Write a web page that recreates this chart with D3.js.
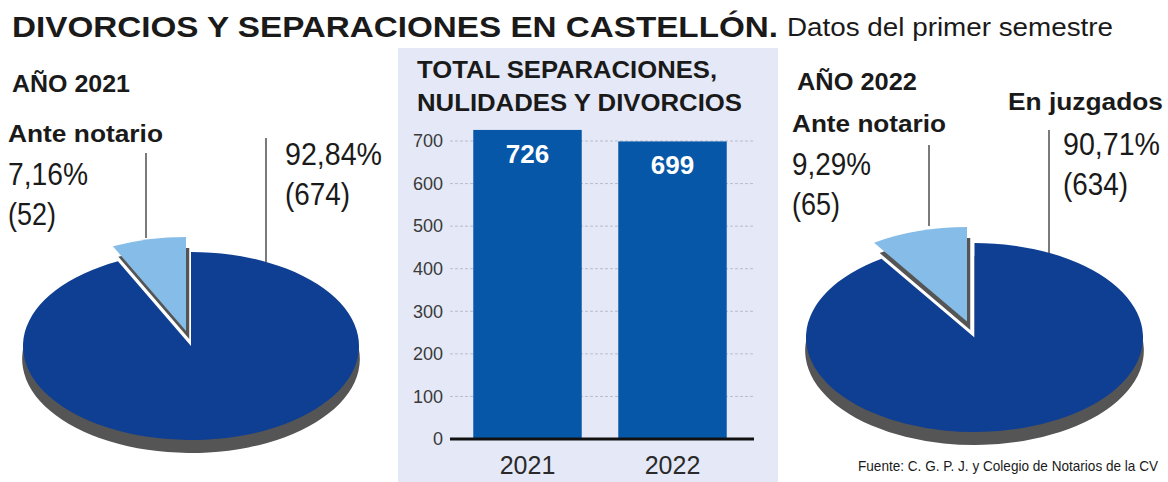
<!DOCTYPE html>
<html><head><meta charset="utf-8">
<script src="https://cdn.jsdelivr.net/npm/d3@7"></script>
<style>
html,body{margin:0;padding:0;background:#fff;}
svg{display:block;}
text{font-family:"Liberation Sans",Arial,sans-serif;}
</style></head>
<body>
<svg id="c" width="1168" height="482"></svg>
<script>
// ---- data ----
const years = ["2021", "2022"];
const totals = [726, 699];
const yTicks = [0, 100, 200, 300, 400, 500, 600, 700];
const pieLabels = ["En juzgados", "Ante notario"];
const pie2021 = [674, 52];
const pie2022 = [634, 65];
const pct2021 = ["92,84%", "7,16%"];
const pct2022 = ["90,71%", "9,29%"];

const svg = d3.select("#c");
const C_MAIN = "#0f3f92", C_LIGHT = "#86bde8", C_SHADOW = "#555555", C_BAR = "#0657a8";

// title
svg.append("text").attr("x", 12).attr("y", 37).attr("font-size", 30).attr("font-weight", "bold")
  .attr("fill", "#1a1a1a").attr("textLength", 766).attr("lengthAdjust", "spacingAndGlyphs")
  .text("DIVORCIOS Y SEPARACIONES EN CASTELLÓN.");
svg.append("text").attr("x", 787).attr("y", 36).attr("font-size", 26)
  .attr("fill", "#1a1a1a").attr("textLength", 326).attr("lengthAdjust", "spacingAndGlyphs")
  .text("Datos del primer semestre");

// ---- bar panel ----
svg.append("rect").attr("x", 398).attr("y", 48).attr("width", 380).attr("height", 434).attr("fill", "#e5e9f7");
svg.append("text").attr("x", 417).attr("y", 78).attr("font-size", 24).attr("font-weight", "bold")
  .attr("fill", "#1a1a1a").attr("textLength", 300).attr("lengthAdjust", "spacingAndGlyphs")
  .text("TOTAL SEPARACIONES,");
svg.append("text").attr("x", 417).attr("y", 111).attr("font-size", 24).attr("font-weight", "bold")
  .attr("fill", "#1a1a1a").attr("textLength", 325).attr("lengthAdjust", "spacingAndGlyphs")
  .text("NULIDADES Y DIVORCIOS");

const y = d3.scaleLinear().domain([0, 700]).range([439, 141]);
const x = d3.scaleBand().domain(years).range([455, 745]).paddingInner(0.252).paddingOuter(0.126);

const grid = svg.append("g");
grid.selectAll("line").data(yTicks.filter(d => d > 0)).join("line")
  .attr("x1", 450).attr("x2", 754).attr("y1", d => y(d)).attr("y2", d => y(d))
  .attr("stroke", "#b9bdc9").attr("stroke-width", 1).attr("stroke-dasharray", "3,2");

const yAxis = svg.append("g").attr("transform", "translate(443,0)")
  .call(d3.axisLeft(y).tickValues(yTicks).tickSize(0).tickPadding(0));
yAxis.select(".domain").remove();
yAxis.selectAll("text").attr("font-size", 18).attr("fill", "#3a3a3a")
  .attr("font-family", "'Liberation Sans Narrow','Liberation Sans',Arial,sans-serif");

svg.append("g").selectAll("rect").data(totals).join("rect")
  .attr("x", (d, i) => x(years[i])).attr("width", x.bandwidth())
  .attr("y", d => y(d)).attr("height", d => y(0) - y(d)).attr("fill", C_BAR);

svg.append("g").selectAll("text").data(totals).join("text")
  .attr("x", (d, i) => x(years[i]) + x.bandwidth() / 2).attr("y", d => y(d) + 33)
  .attr("text-anchor", "middle").attr("font-size", 26).attr("font-weight", "bold").attr("fill", "#fff")
  .text(d => d);

svg.append("line").attr("x1", 450).attr("x2", 754).attr("y1", y(0)).attr("y2", y(0))
  .attr("stroke", "#111").attr("stroke-width", 3);

const xAxis = svg.append("g").attr("transform", "translate(0,474)")
  .call(d3.axisBottom(x).tickSize(0).tickPadding(0));
xAxis.select(".domain").remove();
xAxis.selectAll("text").attr("font-size", 25).attr("fill", "#2a2a2a").attr("dy", 0)
  .attr("font-family", "'Liberation Sans Narrow','Liberation Sans',Arial,sans-serif");

// ---- pies ----
function drawPie(values, cfg) {
  const pie = d3.pie().sort(null).value(d => d);
  const arcs = pie(values);
  const arc = d3.arc().innerRadius(0).outerRadius(cfg.rx);
  const sy = cfg.ry / cfg.rx;
  // main slice thickness
  svg.append("path").attr("d", arc(arcs[0]))
    .attr("transform", `translate(${cfg.cx},${cfg.cy + 13}) scale(1.005,${sy})`).attr("fill", C_SHADOW);
  svg.append("path").attr("d", arc(arcs[0]))
    .attr("transform", `translate(${cfg.cx},${cfg.cy}) scale(1,${sy})`).attr("fill", C_MAIN);
  // exploded slice shadow
  svg.append("path").attr("d", arc(arcs[1]))
    .attr("transform", `translate(${cfg.cx + cfg.dx + 4},${cfg.cy + cfg.dy + 10}) scale(1,${sy})`)
    .attr("fill", C_SHADOW).attr("stroke", "#fff").attr("stroke-width", 1.5).attr("vector-effect", "non-scaling-stroke");
  svg.append("path").attr("d", arc(arcs[1]))
    .attr("transform", `translate(${cfg.cx + cfg.dx},${cfg.cy + cfg.dy}) scale(1,${sy})`)
    .attr("fill", C_LIGHT);
}
drawPie(pie2021, {cx: 191, cy: 346, rx: 168, ry: 94, dx: -5, dy: -15});
drawPie(pie2022, {cx: 974.5, cy: 337.5, rx: 168.5, ry: 94.5, dx: -7.5, dy: -16});

// leader lines
const leaders = [[146, 153, 238], [266, 138, 262], [929, 145, 226], [1049, 130, 253]];
svg.append("g").selectAll("line").data(leaders).join("line")
  .attr("x1", d => d[0]).attr("x2", d => d[0]).attr("y1", d => d[1]).attr("y2", d => d[2])
  .attr("stroke", "#333").attr("stroke-width", 1.3);

function txt(s, xx, yy, size, weight, w, fam) {
  const t = svg.append("text").attr("x", xx).attr("y", yy).attr("font-size", size).attr("fill", "#1a1a1a")
    .attr("font-weight", weight).text(s);
  if (fam) t.attr("font-family", fam);
  if (w) t.attr("textLength", w).attr("lengthAdjust", "spacingAndGlyphs");
  return t;
}
const LIGHT = "'Liberation Sans Narrow', 'Liberation Sans', sans-serif";
const MED = "'Open Sans', 'Liberation Sans', sans-serif";
// 2021
txt("AÑO 2021", 12, 92, 23, "bold", 118);
txt(pieLabels[1], 8, 142, 24, 600, 155, MED);
txt(pct2021[1], 8, 185, 31, "normal", 80, LIGHT);
txt("(" + pie2021[1] + ")", 8, 225, 31, "normal", 48, LIGHT);
txt(pct2021[0], 285, 165, 31, "normal", 97, LIGHT);
txt("(" + pie2021[0] + ")", 285, 205, 31, "normal", 65, LIGHT);
// 2022
txt("AÑO 2022", 797, 90, 23, "bold", 120);
txt(pieLabels[0], 1008, 110, 24, 600, 155, MED);
txt(pieLabels[1], 792, 132, 24, 600, 154, MED);
txt(pct2022[1], 792, 175, 31, "normal", 79, LIGHT);
txt("(" + pie2022[1] + ")", 792, 215, 31, "normal", 48, LIGHT);
txt(pct2022[0], 1063, 155, 31, "normal", 97, LIGHT);
txt("(" + pie2022[0] + ")", 1063, 195, 31, "normal", 65, LIGHT);

txt("Fuente: C. G. P. J. y Colegio de Notarios de la CV", 1158, 471, 15, "normal", 300,
  "'Liberation Sans Narrow','Liberation Sans',Arial,sans-serif").attr("text-anchor", "end");
</script>
</body></html>
